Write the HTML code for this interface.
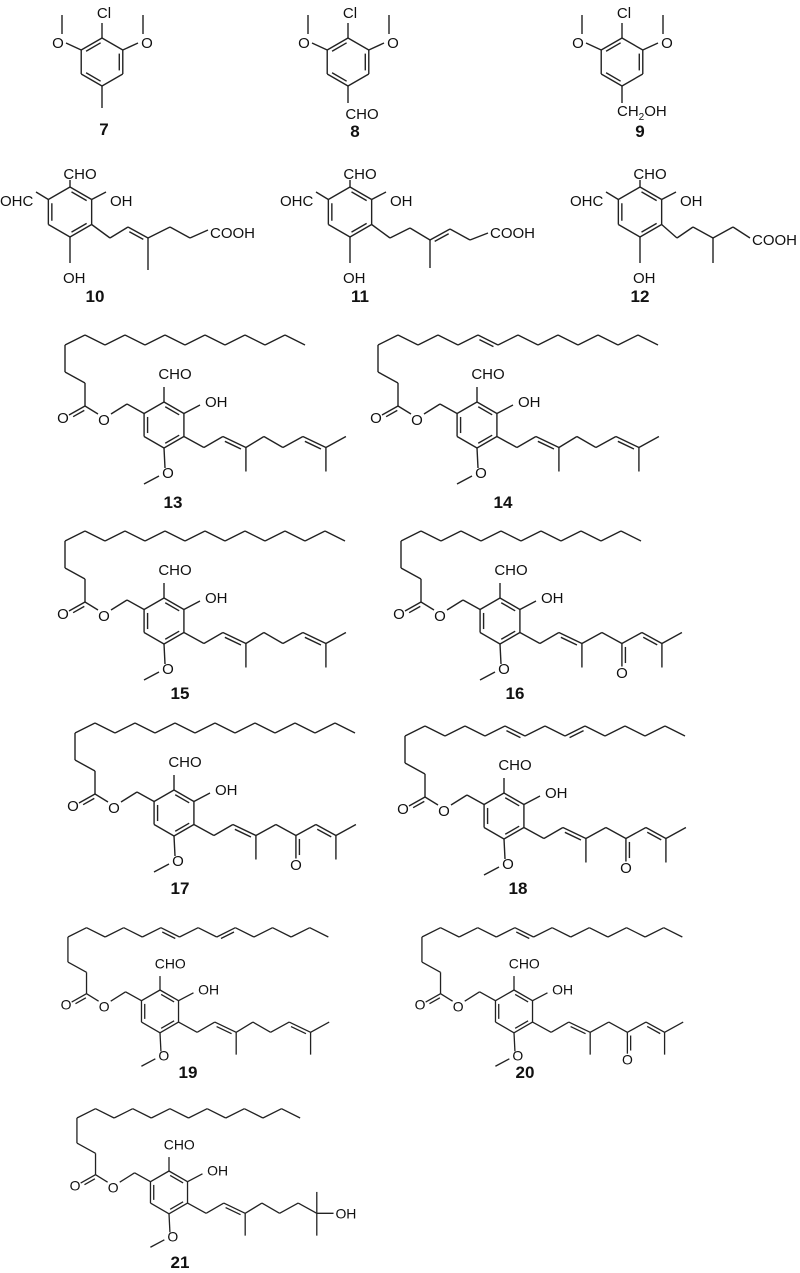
<!DOCTYPE html>
<html><head><meta charset="utf-8"><style>
html,body{margin:0;padding:0;background:#fff;}
svg{display:block;}
text{font-family:"Liberation Sans",sans-serif;font-size:15px;fill:#111;}
.lb{font-weight:bold;font-size:17px;text-anchor:middle;}
.m{text-anchor:middle;}
</style></head><body>
<div style="position:relative;width:800px;height:1273px">
<svg id="s" width="800" height="1273" viewBox="0 0 800 1273" xmlns="http://www.w3.org/2000/svg" style="position:absolute;left:0;top:0">
<g id="top" stroke="#222" stroke-width="1.4" fill="none"></g>
<text class="m" x="104" y="18">Cl</text><text class="m" x="58" y="48">O</text><text class="m" x="147" y="48">O</text>
<text class="lb" x="104" y="135">7</text>
<text class="m" x="350" y="18">Cl</text><text class="m" x="304" y="48">O</text><text class="m" x="393" y="48">O</text>
<text class="m" x="362" y="119">CHO</text><text class="lb" x="355" y="137">8</text>
<text class="m" x="624" y="18">Cl</text><text class="m" x="578" y="48">O</text><text class="m" x="667" y="48">O</text>
<text x="617" y="116">CH<tspan font-size="10" dy="4">2</tspan><tspan dy="-4">OH</tspan></text><text class="lb" x="640" y="137">9</text>

<text class="m" x="80" y="179">CHO</text><text x="0" y="206">OHC</text><text x="110" y="206">OH</text><text x="63" y="283">OH</text><text x="210" y="238">COOH</text><text class="lb" x="95" y="302">10</text>
<text class="m" x="360" y="179">CHO</text><text x="280" y="206">OHC</text><text x="390" y="206">OH</text><text x="343" y="283">OH</text><text x="490" y="238">COOH</text><text class="lb" x="360" y="302">11</text>
<text class="m" x="650" y="179">CHO</text><text x="570" y="206">OHC</text><text x="680" y="206">OH</text><text x="633" y="283">OH</text><text x="752" y="245">COOH</text><text class="lb" x="640" y="302">12</text>

<text class="lb" x="173" y="508">13</text><text class="lb" x="503" y="508">14</text>
<text class="lb" x="180" y="699">15</text><text class="lb" x="515" y="699">16</text>
<text class="lb" x="180" y="894">17</text><text class="lb" x="518" y="894">18</text>
<text class="lb" x="188" y="1078">19</text><text class="lb" x="525" y="1078">20</text>
<text class="lb" x="180" y="1268">21</text>

<g id="m13" transform="translate(164,402)"></g>
<g id="m14" transform="translate(477,402)"></g>
<g id="m15" transform="translate(164,598)"></g>
<g id="m16" transform="translate(500,598)"></g>
<g id="m17" transform="translate(174,790)"></g>
<g id="m18" transform="translate(504,793)"></g>
<g id="m19" transform="translate(160,990) scale(0.93)"></g>
<g id="m20" transform="translate(514,990) scale(0.93)"></g>
<g id="m21" transform="translate(169,1171) scale(0.93)"></g>

<g transform="translate(164,402)"><text class="m" x="11" y="-23">CHO</text><text x="41" y="5">OH</text><text class="m" x="-60" y="23">O</text><text class="m" x="-101" y="21">O</text><text class="m" x="4" y="76">O</text></g>
<g transform="translate(477,402)"><text class="m" x="11" y="-23">CHO</text><text x="41" y="5">OH</text><text class="m" x="-60" y="23">O</text><text class="m" x="-101" y="21">O</text><text class="m" x="4" y="76">O</text></g>
<g transform="translate(164,598)"><text class="m" x="11" y="-23">CHO</text><text x="41" y="5">OH</text><text class="m" x="-60" y="23">O</text><text class="m" x="-101" y="21">O</text><text class="m" x="4" y="76">O</text></g>
<g transform="translate(500,598)"><text class="m" x="11" y="-23">CHO</text><text x="41" y="5">OH</text><text class="m" x="-60" y="23">O</text><text class="m" x="-101" y="21">O</text><text class="m" x="4" y="76">O</text><text class="m" x="122" y="80">O</text></g>
<g transform="translate(174,790)"><text class="m" x="11" y="-23">CHO</text><text x="41" y="5">OH</text><text class="m" x="-60" y="23">O</text><text class="m" x="-101" y="21">O</text><text class="m" x="4" y="76">O</text><text class="m" x="122" y="80">O</text></g>
<g transform="translate(504,793)"><text class="m" x="11" y="-23">CHO</text><text x="41" y="5">OH</text><text class="m" x="-60" y="23">O</text><text class="m" x="-101" y="21">O</text><text class="m" x="4" y="76">O</text><text class="m" x="122" y="80">O</text></g>
<g transform="translate(160,990) scale(0.93)"><text class="m" x="11" y="-23">CHO</text><text x="41" y="5">OH</text><text class="m" x="-60" y="23">O</text><text class="m" x="-101" y="21">O</text><text class="m" x="4" y="76">O</text></g>
<g transform="translate(514,990) scale(0.93)"><text class="m" x="11" y="-23">CHO</text><text x="41" y="5">OH</text><text class="m" x="-60" y="23">O</text><text class="m" x="-101" y="21">O</text><text class="m" x="4" y="76">O</text><text class="m" x="122" y="80">O</text></g>
<g transform="translate(169,1171) scale(0.93)"><text class="m" x="11" y="-23">CHO</text><text x="41" y="5">OH</text><text class="m" x="-60" y="23">O</text><text class="m" x="-101" y="21">O</text><text class="m" x="4" y="76">O</text><text x="179" y="51">OH</text></g>
</svg>
</div>
<script>
const NS='http://www.w3.org/2000/svg';
function el(g,n,a){const e=document.createElementNS(NS,n);for(const k in a)e.setAttribute(k,a[k]);g.appendChild(e);return e;}
function seg(g,a,b){el(g,'line',{x1:a[0],y1:a[1],x2:b[0],y2:b[1]});}
function pl(g,p){for(let i=0;i<p.length-1;i++)seg(g,p[i],p[i+1]);}
function dbl(g,a,b,c){seg(g,a,b);const dx=b[0]-a[0],dy=b[1]-a[1],l=Math.hypot(dx,dy);let nx=-dy/l,ny=dx/l;
 if(c){const mx=(a[0]+b[0])/2,my=(a[1]+b[1])/2;if(nx*(c[0]-mx)+ny*(c[1]-my)<0){nx=-nx;ny=-ny;}}else if(ny<0){nx=-nx;ny=-ny;}
 const o=3.5,s=0.15;seg(g,[a[0]+dx*s+nx*o,a[1]+dy*s+ny*o],[b[0]-dx*s+nx*o,b[1]-dy*s+ny*o]);}
function ring(g,T,b,dbls){const w=b*0.866;const P={T:[0,0],TR:[w,b/2],BR:[w,1.5*b],B:[0,2*b],BL:[-w,1.5*b],TL:[-w,b/2]};
 for(const k in P)P[k]=[P[k][0]+T[0],P[k][1]+T[1]];const C=[T[0],T[1]+b];const ord=['T','TR','BR','B','BL','TL'];
 for(let i=0;i<6;i++){const a=ord[i],c=ord[(i+1)%6];if(dbls.includes(a+'-'+c))dbl(g,P[a],P[c],C);else seg(g,P[a],P[c]);}return P;}
const tg=document.getElementById('top');
[[102,'me'],[348,'cho'],[622,'ch2']].forEach(([x,t])=>{
 const P=ring(tg,[x,38],24,['TR-BR','B-BL','TL-T']);
 seg(tg,P.T,[x,23]);
 seg(tg,P.TL,[x-36,43]);seg(tg,[x-40,34],[x-40,15]);
 seg(tg,P.TR,[x+36,43]);seg(tg,[x+41,34],[x+41,15]);
 if(t==='me')seg(tg,P.B,[x,108]);else seg(tg,P.B,[x,103]);
});
[[70,'a'],[350,'b'],[640,'c']].forEach(([x,t])=>{
 const P=ring(tg,[x,187],25,['T-TR','BR-B','BL-TL']);
 seg(tg,P.T,[x,180]);
 seg(tg,P.TL,[x-34,192]);seg(tg,P.TR,[x+36,192]);
 seg(tg,P.B,[x,263]);
 const B=P.BR;
 if(t==='a'){pl(tg,[B,[110,238],[128,227]]);dbl(tg,[128,227],[148,238]);pl(tg,[[148,238],[170,227],[190,238],[208,230]]);seg(tg,[148,238],[148,270]);}
 if(t==='b'){pl(tg,[B,[390,238],[410,228],[430,240]]);dbl(tg,[430,240],[450,229]);pl(tg,[[450,229],[470,240],[488,233]]);seg(tg,[430,240],[430,268]);}
 if(t==='c'){pl(tg,[B,[677,238],[693,227],[713,238],[733,227],[750,238]]);seg(tg,[713,238],[713,263]);}
});
function lower(id,n,dbs,tail){
 const g=document.getElementById(id);
 const bg=el(g,'g',{stroke:'#222','stroke-width':1.4,fill:'none'});
 const P=ring(bg,[0,0],23,['T-TR','BR-B','BL-TL']);
 seg(bg,P.T,[0,-15]);seg(bg,P.TR,[36,3]);seg(bg,P.B,[1,66]);seg(bg,[-5,74],[-20,82]);
 pl(bg,[P.TL,[-37,2],[-53,12]]);seg(bg,[-66,12],[-79,4]);dbl(bg,[-79,4],[-95,13],[-79,20]);
 pl(bg,[[-79,4],[-79,-19],[-99,-30],[-99,-57],[-79,-67]]);
 let x=-79,y=-67;
 for(let i=0;i<n;i++){const nx=x+20,ny=(i%2==0)?y+10:y-10;if(dbs.includes(i))dbl(bg,[x,y],[nx,ny],[(x+nx)/2,(y+ny)/2+10]);else seg(bg,[x,y],[nx,ny]);x=nx;y=ny;}
 const B=P.BR;const p=(a,b)=>[B[0]+a,B[1]+b];
 pl(bg,[B,p(20,11),p(39,0)]);dbl(bg,p(39,0),p(62,11),p(50,20));seg(bg,p(62,11),p(62,35));
 if(tail==='g'){pl(bg,[p(62,11),p(80,0),p(99,11),p(119,0)]);dbl(bg,p(119,0),p(142,11),p(130,20));seg(bg,p(142,11),p(162,0));seg(bg,p(142,11),p(142,35));}
 if(tail==='k'){pl(bg,[p(62,11),p(82,0),p(102,11)]);dbl(bg,p(102,11),p(102,34),p(110,22));seg(bg,p(102,11),p(122,0));dbl(bg,p(122,0),p(142,11),p(132,20));seg(bg,p(142,11),p(162,0));seg(bg,p(142,11),p(142,35));}
 if(tail==='o'){pl(bg,[p(62,11),p(80,0),p(99,11),p(119,0),p(139,11)]);seg(bg,p(139,11),p(139,-12));seg(bg,p(139,11),p(139,35));seg(bg,p(139,11),p(157,11));}
}
lower('m13',11,[],'g');lower('m14',13,[4],'g');lower('m15',13,[],'g');lower('m16',11,[],'k');
lower('m17',13,[],'k');lower('m18',13,[4,7],'k');lower('m19',13,[4,7],'g');lower('m20',13,[4],'k');lower('m21',11,[],'o');
</script>
</body></html>
